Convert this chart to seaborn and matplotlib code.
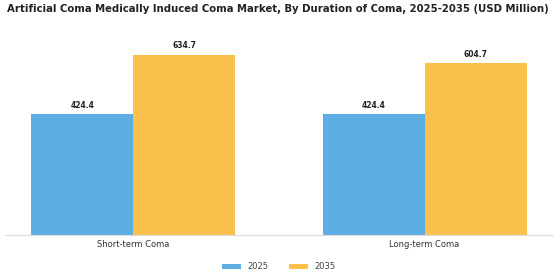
import numpy as np
import pandas as pd
import matplotlib
matplotlib.use("Agg")
import matplotlib.pyplot as plt
import seaborn as sns

categories = ["Short-term Coma", "Long-term Coma"]
years = ["2025", "2035"]
values_2025 = [424.4, 424.4]
values_2035 = [634.7, 604.7]
colors = ["#5DAEE3", "#F7C14B"]

df = pd.DataFrame({
    "category": categories * 2,
    "year": [years[0]] * 2 + [years[1]] * 2,
    "value": values_2025 + values_2035,
})

sns.set_style("white")
plt.rcParams["font.family"] = ["DejaVu Sans"]

fig = plt.figure(figsize=(5.6, 2.8), dpi=100)
ax = fig.add_axes([0.009, 0.161, 0.978, 0.71])

sns.barplot(data=df, x="category", y="value", hue="year", palette=colors,
            width=0.7, saturation=1, linewidth=0, ax=ax, legend=True)

for cont in ax.containers:
    ax.bar_label(cont, fmt="%.1f", padding=3, fontsize=5.5, fontweight="bold", color="#222222")

ax.set_xlim(-0.44, 1.44)
ax.set_ylim(0, 700)
ax.set_xlabel("")
ax.set_ylabel("")
ax.set_yticks([])
ax.tick_params(axis="x", length=0, labelsize=6, colors="#333333", pad=4)
for s in ["top", "right", "left"]:
    ax.spines[s].set_visible(False)
ax.spines["bottom"].set_color("#dddddd")
ax.spines["bottom"].set_linewidth(0.8)

ax.legend(loc="upper center", bbox_to_anchor=(0.5, -0.1), ncol=2, frameon=False,
          fontsize=6, handlelength=2.2, handleheight=0.6, columnspacing=2.5,
          labelcolor="#444444")

fig.suptitle("Artificial Coma Medically Induced Coma Market, By Duration of Coma, 2025-2035 (USD Million)",
             x=0.497, y=0.985, fontsize=7.3, fontweight="bold", color="#222222")

fig.savefig("out.png", dpi=100)
